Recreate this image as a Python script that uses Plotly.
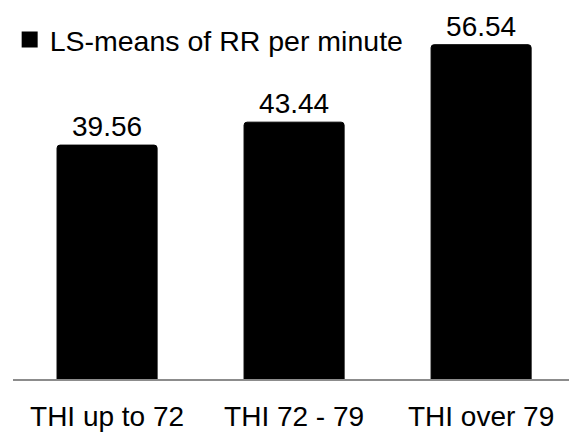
import plotly.graph_objects as go

categories = ["THI up to 72", "THI 72 - 79", "THI over 79"]
values = [39.56, 43.44, 56.54]
labels = ["39.56", "43.44", "56.54"]
series_name = "LS-means of RR per minute"

FONT = "Liberation Sans, Arial, sans-serif"

fig = go.Figure()
fig.add_trace(go.Bar(
    x=categories,
    y=values,
    name=series_name,
    text=labels,
    textposition="outside",
    textfont=dict(size=28, color="#000000", family=FONT),
    marker=dict(color="#000000", line=dict(color="#000000", width=1)),
    cliponaxis=False,
    showlegend=False,
))
# legend entry (square swatch) for the bar series
fig.add_trace(go.Scatter(
    x=[None], y=[None],
    mode="markers",
    name=series_name,
    marker=dict(symbol="square", size=16, color="#000000"),
    showlegend=True,
    hoverinfo="skip",
))

fig.update_layout(
    width=569,
    height=432,
    margin=dict(l=13, r=0, t=0, b=48.5),
    paper_bgcolor="#ffffff",
    plot_bgcolor="#ffffff",
    font=dict(family=FONT, size=28, color="#000000"),
    bargap=0.465,
    barcornerradius=3,
    showlegend=True,
    legend=dict(
        x=-0.006, y=0.962, xanchor="left", yanchor="top",
        orientation="h",
        font=dict(size=28.5, color="#000000", family=FONT),
        bgcolor="rgba(0,0,0,0)",
        itemwidth=30,
        itemsizing="trace",
    ),
    xaxis=dict(
        range=[-0.503, 2.47],
        showline=True,
        linecolor="#8c8c8c",
        linewidth=2,
        ticks="",
        showgrid=False,
        zeroline=False,
        tickfont=dict(size=28, color="#000000", family=FONT),
        ticklabelstandoff=11,
    ),
    yaxis=dict(
        range=[0, 64.1],
        visible=False,
        showgrid=False,
        zeroline=False,
    ),
)

fig.write_html("out.html")
